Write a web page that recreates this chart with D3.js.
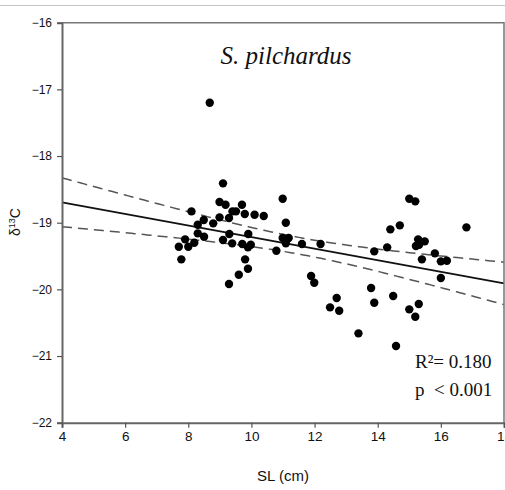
<!DOCTYPE html>
<html>
<head>
<meta charset="utf-8">
<script src="https://cdn.jsdelivr.net/npm/d3@7"></script>
<style>
  body { margin: 0; background: #fff; }
  svg { display: block; }
</style>
</head>
<body>
<script>
// standard length (cm) and d13C of each fish
var sl = [7.70, 7.78, 7.90, 8.00, 8.10, 8.19, 8.30, 8.30, 8.49, 8.50,
          8.68, 8.79, 8.99, 8.99, 9.10, 9.10, 9.18, 9.29, 9.30, 9.29,
          9.39, 9.40, 9.51, 9.60, 9.70, 9.71, 9.79, 9.80, 9.89, 9.90,
          9.89, 9.98, 10.10, 10.39, 10.79, 10.99, 11.09, 10.99, 11.18, 11.09,
          11.60, 11.89, 11.99, 12.19, 12.49, 12.70, 12.78, 13.39, 13.79, 13.89,
          13.89, 14.30, 14.40, 14.70, 14.49, 14.58, 15.00, 15.30, 15.19, 15.00,
          15.19, 15.21, 15.31, 15.28, 15.49, 15.40, 15.81, 16.00, 16.19, 16.00,
          16.81];
var d13c = [-19.36, -19.55, -19.25, -19.36, -18.83, -19.30, -19.03, -19.16, -18.96, -19.21,
            -17.20, -19.01, -18.92, -18.69, -18.41, -19.26, -18.73, -18.93, -19.17, -19.92,
            -19.31, -18.83, -18.83, -19.78, -18.73, -19.32, -18.87, -19.55, -19.69, -19.17,
            -19.37, -19.33, -18.88, -18.90, -19.42, -18.64, -19.00, -19.23, -19.23, -19.31,
            -19.32, -19.80, -19.90, -19.32, -20.27, -20.13, -20.32, -20.66, -19.98, -20.20,
            -19.43, -19.37, -19.10, -19.04, -20.10, -20.85, -20.30, -20.22, -20.41, -18.64,
            -18.68, -19.35, -19.33, -19.25, -19.28, -19.55, -19.46, -19.58, -19.57, -19.83,
            -19.07];
var xTicks = [4, 6, 8, 10, 12, 14, 16, 18];
var yTicks = [-16, -17, -18, -19, -20, -21, -22];
var statLines = ["R²= 0.180", "p  < 0.001"];

var w = 505;
var h = 490;

var svg = d3.select("body").append("svg")
    .attr("width", w)
    .attr("height", h);

var x = d3.scaleLinear().domain([4, 18]).range([62, 504]);
var y = d3.scaleLinear().domain([-22, -16]).range([422.7, 22.7]);

// thin page rule at the top
svg.append("line")
   .attr("x1", 0).attr("x2", w)
   .attr("y1", 5.5).attr("y2", 5.5)
   .attr("stroke", "#c4c4c4")
   .attr("stroke-width", 1);

// least squares fit + 95% confidence band
var n = sl.length;
var mx = d3.mean(sl), my = d3.mean(d13c);
var sxx = d3.sum(sl, function(d) { return (d - mx) * (d - mx); });
var sxy = d3.sum(sl, function(d, i) { return (d - mx) * (d13c[i] - my); });
var b = sxy / sxx;
var a = my - b * mx;
var sse = d3.sum(sl, function(d, i) { var r = d13c[i] - (a + b * d); return r * r; });
var se = Math.sqrt(sse / (n - 2));
var tval = 1.995;

var xs = d3.range(4, 18.001, 0.1);
function band(sign) {
  return xs.map(function(v) {
    var half = tval * se * Math.sqrt(1 / n + (v - mx) * (v - mx) / sxx);
    return [v, a + b * v + sign * half];
  });
}

var line = d3.line()
    .x(function(d) { return x(d[0]); })
    .y(function(d) { return y(d[1]); });

[1, -1].forEach(function(s) {
  svg.append("path")
     .datum(band(s))
     .attr("d", line)
     .attr("fill", "none")
     .attr("stroke", "#555")
     .attr("stroke-width", 1.5)
     .attr("stroke-dasharray", "10,6");
});

svg.append("path")
   .datum([[4, a + b * 4], [18, a + b * 18]])
   .attr("d", line)
   .attr("fill", "none")
   .attr("stroke", "#111")
   .attr("stroke-width", 1.8);

svg.selectAll("circle")
   .data(sl)
   .enter()
   .append("circle")
   .attr("cx", function(d) { return x(d); })
   .attr("cy", function(d, i) { return y(d13c[i]); })
   .attr("r", 4.2)
   .attr("fill", "#000");

// frame top + right
svg.append("path")
   .attr("d", "M" + x(4) + "," + y(-16) + "H" + x(18) + "V" + y(-22))
   .attr("fill", "none")
   .attr("stroke", "#777")
   .attr("stroke-width", 1.5);

var yAxis = svg.append("g")
    .attr("transform", "translate(" + x(4) + ",0)")
    .call(d3.axisLeft(y).tickValues(yTicks).tickSize(5).tickPadding(5).tickFormat(d3.format("d")));

var xAxis = svg.append("g")
    .attr("transform", "translate(0," + y(-22) + ")")
    .call(d3.axisBottom(x).tickValues(xTicks).tickSize(5).tickPadding(4).tickFormat(d3.format("d")));

[yAxis, xAxis].forEach(function(g) {
  g.select(".domain").attr("stroke", "#666").attr("stroke-width", 2);
  g.selectAll(".tick line").attr("stroke", "#555").attr("stroke-width", 1.2);
  g.selectAll(".tick text")
   .attr("fill", "#111")
   .attr("font-family", "Liberation Sans, Arial, sans-serif");
});
yAxis.selectAll(".tick text").attr("font-size", "12px");
xAxis.selectAll(".tick text").attr("font-size", "13.5px");

// axis titles
svg.append("text")
   .attr("x", 283)
   .attr("y", 481)
   .attr("text-anchor", "middle")
   .attr("font-family", "Liberation Sans, Arial, sans-serif")
   .attr("font-size", "15px")
   .attr("fill", "#111")
   .text("SL (cm)");

var yt = svg.append("text")
   .attr("transform", "translate(20,222) rotate(-90)")
   .attr("text-anchor", "middle")
   .attr("font-family", "Liberation Sans, Arial, sans-serif")
   .attr("font-size", "14px")
   .attr("fill", "#111");
yt.append("tspan").text("δ");
yt.append("tspan").attr("font-size", "9px").attr("dy", "-5").text("13");
yt.append("tspan").attr("dy", "5").text("C");

// species name
svg.append("text")
   .attr("x", 286)
   .attr("y", 64)
   .attr("text-anchor", "middle")
   .attr("font-family", "Liberation Serif, Times New Roman, serif")
   .attr("font-style", "italic")
   .attr("font-size", "25px")
   .attr("fill", "#111")
   .text("S. pilchardus");

svg.selectAll(".stat")
   .data(statLines)
   .enter()
   .append("text")
   .attr("class", "stat")
   .attr("x", 415)
   .attr("y", function(d, i) { return 368 + i * 28; })
   .attr("font-family", "Liberation Serif, Times New Roman, serif")
   .attr("font-size", "19px")
   .attr("fill", "#111")
   .style("white-space", "pre")
   .text(function(d) { return d; });
</script>
</body>
</html>
